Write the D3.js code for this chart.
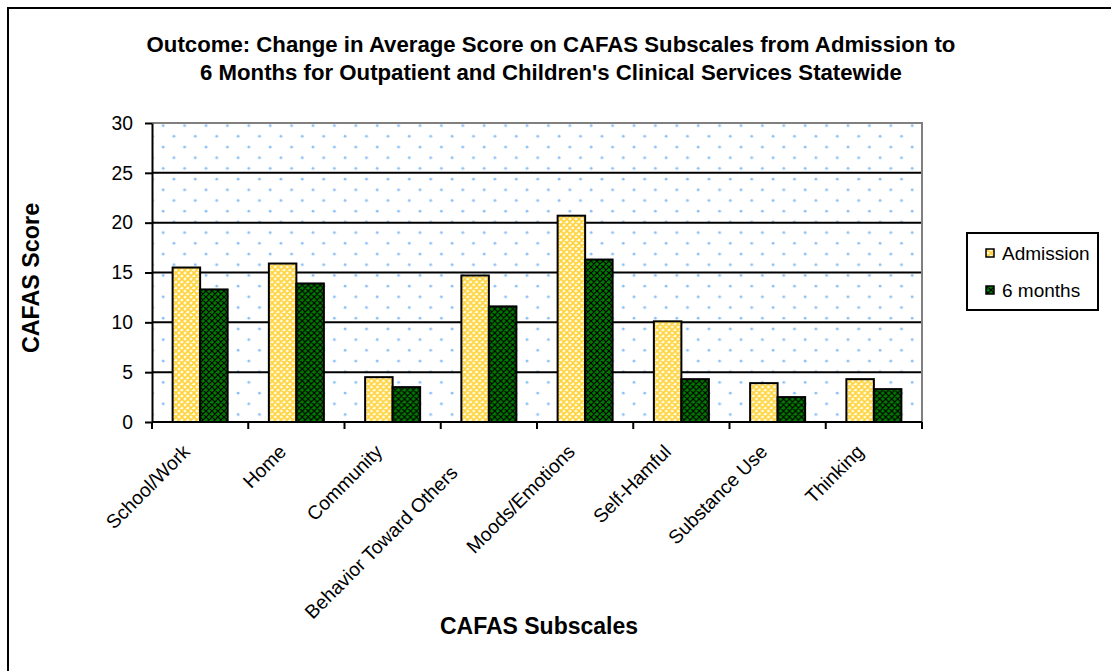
<!DOCTYPE html>
<html>
<head>
<meta charset="utf-8">
<script src="https://cdn.jsdelivr.net/npm/d3@7"></script>
<style>
    body { margin: 0; background: #fff; }
    svg text { font-family: Arial, "Liberation Sans", sans-serif; fill: #000; }
</style>
</head>
<body>
<div id="chart"></div>
<script>
    "use strict";

    // data
    var categories = ['School/Work', 'Home', 'Community', 'Behavior Toward Others',
        'Moods/Emotions', 'Self-Hamful', 'Substance Use', 'Thinking'];
    var admission = [15.5, 15.9, 4.5, 14.7, 20.7, 10.1, 3.9, 4.3];
    var sixMonths = [13.3, 13.9, 3.5, 11.6, 16.3, 4.3, 2.5, 3.3];
    var seriesNames = ['Admission', '6 months'];
    var yTicks = [0, 5, 10, 15, 20, 25, 30];

    var titleLines = ['Outcome: Change in Average Score on CAFAS Subscales from Admission to',
        '6 Months for Outpatient and Children\'s Clinical Services Statewide'];

    var svgWidth = 1111, svgHeight = 671;
    var margin = { top: 123, right: 189, bottom: 249, left: 152 };
    var chartWidth = svgWidth - margin.left - margin.right;
    var chartHeight = svgHeight - margin.top - margin.bottom;

    var svg = d3.select('#chart').append('svg')
        .attr('width', svgWidth)
        .attr('height', svgHeight);

    var defs = svg.append('defs');

    // dotted plot background
    var dots = defs.append('pattern')
        .attr('id', 'dots')
        .attr('patternUnits', 'userSpaceOnUse')
        .attr('width', 21.4).attr('height', 21.4)
        .attr('x', margin.left + 4).attr('y', margin.top + 3);
    dots.append('rect').attr('width', 21.4).attr('height', 21.4).attr('fill', '#fff');
    dots.append('circle').attr('cx', 5).attr('cy', 5).attr('r', 1.4).attr('fill', '#8cc0f4');
    dots.append('circle').attr('cx', 15.7).attr('cy', 15.7).attr('r', 1.4).attr('fill', '#8cc0f4');

    // crosshatch fills for bars
    function hatch(id, bg, fg, w) {
        var p = defs.append('pattern')
            .attr('id', id)
            .attr('patternUnits', 'userSpaceOnUse')
            .attr('width', 6).attr('height', 6);
        p.append('rect').attr('width', 6).attr('height', 6).attr('fill', bg);
        p.append('path')
            .attr('d', 'M0,0L6,6M6,0L0,6M-1,5L1,7M5,-1L7,1M-1,1L1,-1M5,7L7,5')
            .attr('stroke', fg).attr('stroke-width', w);
    }
    hatch('fillAdm', '#fffbe0', '#ffd23c', 1.6);
    hatch('fillSix', '#007a00', '#000000', 1.2);
    var fills = ['url(#fillAdm)', 'url(#fillSix)'];

    // outer frame
    svg.append('rect')
        .attr('x', 8).attr('y', 8)
        .attr('width', 1200).attr('height', 800)
        .attr('fill', 'none').attr('stroke', '#000').attr('stroke-width', 2);

    // title
    svg.append('text')
        .attr('text-anchor', 'middle')
        .style('font-size', '22.2px').style('font-weight', 'bold')
        .selectAll('tspan')
        .data(titleLines)
        .enter().append('tspan')
        .attr('x', 551)
        .attr('y', function (d, i) { return 52 + i * 28; })
        .text(function (d) { return d; });

    var xScale = d3.scaleBand()
        .domain(categories)
        .range([0, chartWidth]);

    var xSub = d3.scaleBand()
        .domain(seriesNames)
        .range([0, xScale.bandwidth()])
        .paddingInner(0)
        .paddingOuter(0.75);

    var yScale = d3.scaleLinear()
        .domain([0, 30])
        .range([chartHeight, 0]);

    var chartLayer = svg.append('g')
        .attr('transform', 'translate(' + [margin.left, margin.top] + ')');

    // plot area
    chartLayer.append('rect')
        .attr('width', chartWidth).attr('height', chartHeight)
        .attr('fill', 'url(#dots)');

    // grid lines
    chartLayer.append('g')
        .selectAll('line')
        .data(yTicks.filter(function (d) { return d > 0 && d < 30; }))
        .enter().append('line')
        .attr('x1', 0).attr('x2', chartWidth)
        .attr('y1', function (d) { return yScale(d); })
        .attr('y2', function (d) { return yScale(d); })
        .attr('stroke', '#000').attr('stroke-width', 2);

    // gray top / right border
    chartLayer.append('path')
        .attr('d', 'M0,' + yScale(30) + 'H' + chartWidth + 'V' + yScale(0))
        .attr('fill', 'none').attr('stroke', '#808080').attr('stroke-width', 2);

    // bars
    var rows = categories.map(function (c, i) {
        return { name: c, values: [admission[i], sixMonths[i]] };
    });

    var groups = chartLayer.append('g')
        .selectAll('g')
        .data(rows)
        .enter().append('g')
        .attr('transform', function (d) { return 'translate(' + xScale(d.name) + ',0)'; });

    groups.selectAll('rect')
        .data(function (d) {
            return d.values.map(function (v, j) { return { s: seriesNames[j], v: v, j: j }; });
        })
        .enter().append('rect')
        .attr('x', function (d) { return xSub(d.s); })
        .attr('y', function (d) { return yScale(d.v); })
        .attr('width', xSub.bandwidth())
        .attr('height', function (d) { return yScale(0) - yScale(d.v); })
        .attr('fill', function (d) { return fills[d.j]; })
        .attr('stroke', '#000').attr('stroke-width', 2);

    // y axis
    var axisY = chartLayer.append('g')
        .call(d3.axisLeft(yScale).tickValues(yTicks).tickSizeInner(7).tickSizeOuter(0).tickPadding(12));
    axisY.select('.domain').attr('stroke-width', 2);
    axisY.selectAll('.tick line').attr('stroke-width', 2);
    axisY.selectAll('.tick text')
        .style('font-size', '19.3px')
        .style('font-family', 'Arial, "Liberation Sans", sans-serif');

    // x axis (ticks on category boundaries)
    var boundaries = categories.map(function (c) { return xScale(c); }).concat([chartWidth]);
    var axisX = chartLayer.append('g')
        .attr('transform', 'translate(0,' + chartHeight + ')');
    axisX.append('line')
        .attr('x1', 0).attr('x2', chartWidth)
        .attr('stroke', '#000').attr('stroke-width', 2);
    axisX.selectAll('.xtick')
        .data(boundaries)
        .enter().append('line')
        .attr('class', 'xtick')
        .attr('x1', function (d) { return d; }).attr('x2', function (d) { return d; })
        .attr('y1', 0).attr('y2', 7)
        .attr('stroke', '#000').attr('stroke-width', 2);

    // the longest label sits further down-left in the original
    axisX.selectAll('.xlabel')
        .data(categories)
        .enter().append('text')
        .attr('class', 'xlabel')
        .attr('text-anchor', 'end')
        .attr('transform', function (d) {
            var shift = d.length > 20 ? 21 : 0;
            return 'translate(' + (xScale(d) + xScale.bandwidth() / 2 - 9 - shift) + ',' + (31 + shift) + ') rotate(-45)';
        })
        .style('font-size', '19.3px')
        .text(function (d) { return d; });

    // axis titles
    svg.append('text')
        .attr('text-anchor', 'middle')
        .attr('transform', 'translate(39,278) rotate(-90)')
        .style('font-size', '23.3px').style('font-weight', 'bold')
        .text('CAFAS Score');

    svg.append('text')
        .attr('text-anchor', 'middle')
        .attr('x', 539).attr('y', 634)
        .style('font-size', '23px').style('font-weight', 'bold')
        .text('CAFAS Subscales');

    // legend
    var legend = svg.append('g').attr('transform', 'translate(967,233)');
    legend.append('rect')
        .attr('width', 131).attr('height', 77)
        .attr('fill', '#fff').attr('stroke', '#000').attr('stroke-width', 2);
    var items = legend.selectAll('.item')
        .data(seriesNames)
        .enter().append('g')
        .attr('class', 'item')
        .attr('transform', function (d, i) { return 'translate(0,' + (20 + i * 37) + ')'; });
    items.append('rect')
        .attr('x', 19).attr('y', -4)
        .attr('width', 8).attr('height', 8)
        .attr('fill', function (d, i) { return fills[i]; })
        .attr('stroke', '#000').attr('stroke-width', 1.5);
    items.append('text')
        .attr('x', 35).attr('y', 7)
        .style('font-size', '19px')
        .text(function (d) { return d; });
</script>
</body>
</html>
